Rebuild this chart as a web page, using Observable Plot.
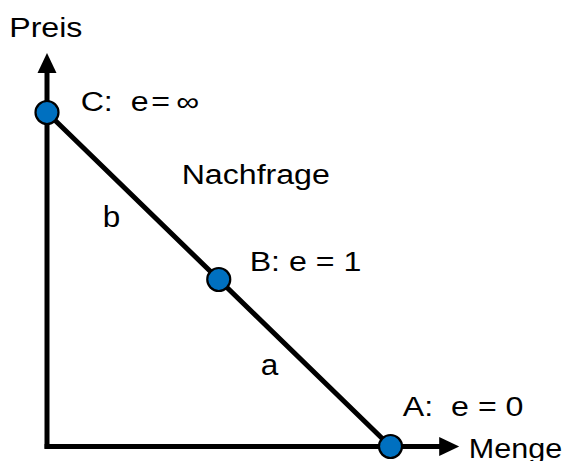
<!DOCTYPE html>
<html>
<head>
<meta charset="utf-8">
<script src="https://cdn.jsdelivr.net/npm/d3@7"></script>
<script src="https://cdn.jsdelivr.net/npm/@observablehq/plot@0.6"></script>
<style>
  html, body { margin: 0; padding: 0; background: #fff; }
  #chart svg { display: block; }
</style>
</head>
<body>
<div id="chart"></div>
<script>
// Points on the demand curve
const pointNames = ["A", "B", "C"];
const pointQty = [10, 5, 0];
const pointPrice = [0, 5, 10];

// Axis extents (arrow tips)
const axisQtyMax = 12;
const axisPriceMax = 11.78;

// Text labels
const labelTexts = ["Preis", "Menge", "C:\u00a0\u00a0e\u200a=\u2009\u221e", "Nachfrage", "B: e = 1", "A:\u00a0\u00a0e = 0"];
const labelQty = [-1.1, 12.28, 0.98, 3.92, 5.9, 10.36];
const labelPrice = [12.25, -0.33, 10.03, 7.87, 5.25, 0.91];

const segTexts = ["b", "a"];
const segQty = [1.62, 6.22];
const segPrice = [6.57, 2.13];

const points = pointNames.map((n, i) => ({name: n, q: pointQty[i], p: pointPrice[i]}));
const labels = labelTexts.map((t, i) => ({t, q: labelQty[i], p: labelPrice[i]}));
const segs = segTexts.map((t, i) => ({t, q: segQty[i], p: segPrice[i]}));

const arrowHead = {
  draw(context) {
    context.moveTo(0, 0);
    context.lineTo(-9.5, 20);
    context.lineTo(9.5, 20);
    context.closePath();
  }
};

const plot = Plot.plot({
  width: 568,
  height: 461,
  marginLeft: 46.5,
  marginRight: 109.3,
  marginTop: 45.2,
  marginBottom: 15,
  x: {domain: [0, 12], axis: null},
  y: {domain: [0, 12], axis: null},
  style: {fontFamily: "'Liberation Sans', Arial, sans-serif", background: "white"},
  marks: [
    // axes
    Plot.line([{q: 0, p: -0.07}, {q: 0, p: axisPriceMax - 0.5}], {x: "q", y: "p", stroke: "black", strokeWidth: 5, strokeLinecap: "butt"}),
    Plot.line([{q: -0.07, p: 0}, {q: axisQtyMax - 0.5, p: 0}], {x: "q", y: "p", stroke: "black", strokeWidth: 5, strokeLinecap: "butt"}),
    Plot.dot([{q: 0, p: axisPriceMax}], {x: "q", y: "p", symbol: arrowHead, fill: "black", stroke: null, r: 10}),
    Plot.dot([{q: axisQtyMax, p: 0}], {x: "q", y: "p", symbol: arrowHead, fill: "black", stroke: null, r: 10, rotate: 90}),
    // demand line C -> A
    Plot.line([points[2], points[0]], {x: "q", y: "p", stroke: "black", strokeWidth: 5}),
    // points
    Plot.dot(points, {x: "q", y: "p", r: 11.5, fill: "#0070C0", stroke: "black", strokeWidth: 2.2}),
    // labels
    Plot.text(labels, {x: "q", y: "p", text: "t", textAnchor: "start", lineAnchor: "bottom", fontSize: 27, fill: "black"}),
    Plot.text(segs, {x: "q", y: "p", text: "t", textAnchor: "start", lineAnchor: "bottom", fontSize: 30, fill: "black"})
  ]
});

document.getElementById("chart").appendChild(plot);

// horizontal stretch of text to match the reference's proportions
d3.select(plot).selectAll("text").each(function() {
  const t = this.textContent;
  const f = (t === "a" || t === "b") ? 1.05 : (t === "Menge" ? 1.13 : 1.19);
  const len = this.getComputedTextLength();
  this.setAttribute("textLength", (len * f).toFixed(1));
  this.setAttribute("lengthAdjust", "spacingAndGlyphs");
});
</script>
</body>
</html>
